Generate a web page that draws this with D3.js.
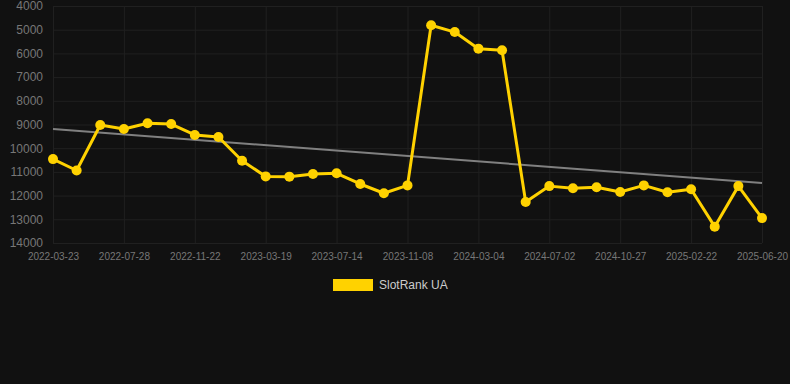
<!DOCTYPE html>
<html>
<head>
<meta charset="utf-8">
<script src="https://cdn.jsdelivr.net/npm/d3@7"></script>
<style>
  html, body { margin: 0; padding: 0; background: #111111; }
  svg { display: block; font-family: "Liberation Sans", Arial, sans-serif; }
</style>
</head>
<body>
<div class="chart"></div>
<script>
// categories (every 3rd one is labelled on the axis)
var dates = [
    "2022-03-23", "2022-05-05", "2022-06-16", "2022-07-28", "2022-09-06", "2022-10-14",
    "2022-11-22", "2022-12-31", "2023-02-08", "2023-03-19", "2023-04-27", "2023-06-05",
    "2023-07-14", "2023-08-22", "2023-09-30", "2023-11-08", "2023-12-17", "2024-01-25",
    "2024-03-04", "2024-04-12", "2024-05-23", "2024-07-02", "2024-08-09", "2024-09-18",
    "2024-10-27", "2024-12-05", "2025-01-13", "2025-02-22", "2025-04-01", "2025-05-11",
    "2025-06-20"
];
var rank = [
    10460, 10940, 9020, 9190, 8950, 8980,
    9440, 9530, 10530, 11190, 11200, 11090,
    11060, 11510, 11900, 11570, 4815, 5100,
    5800, 5870, 12270, 11600, 11690, 11650,
    11850, 11570, 11860, 11730, 13310, 11600,
    12950
];
var yTicks = [4000, 5000, 6000, 7000, 8000, 9000, 10000, 11000, 12000, 13000, 14000];
var seriesName = "SlotRank UA";

var W = 790, H = 384;
var margin = { top: 6, right: 28, bottom: 141, left: 53 };
var width = W - margin.left - margin.right;
var height = H - margin.top - margin.bottom;

var gold = "#ffd200";

var x = d3.scalePoint()
    .domain(dates)
    .range([0, width]);

// rank axis is reversed: 4000 on top
var y = d3.scaleLinear()
    .domain([4000, 14000])
    .range([0, height]);

var svg = d3.select('.chart')
    .append('svg')
    .attr('width', W)
    .attr('height', H);

var canvas = svg.append('g')
    .attr('transform', `translate(${margin.left},${margin.top})`);

var labelled = dates.filter((d, i) => i % 3 === 0);

// grid
var yAxis = d3.axisLeft(y).tickValues(yTicks).tickFormat(d3.format('d')).tickSize(-width).tickPadding(10);
var gy = canvas.append('g').call(yAxis);
gy.select('.domain').remove();
gy.selectAll('line').attr('stroke', '#202020');
gy.selectAll('text').attr('fill', '#777777').attr('font-size', 12);

var xAxis = d3.axisBottom(x).tickValues(labelled).tickSize(-height).tickPadding(10);
var gx = canvas.append('g')
    .attr('transform', `translate(0, ${height})`)
    .call(xAxis);
gx.select('.domain').remove();
gx.selectAll('line').attr('stroke', '#202020');
gx.selectAll('text').attr('fill', '#777777').attr('font-size', 10);

// least squares trend line
var n = rank.length;
var mx = d3.mean(rank, (d, i) => i);
var my = d3.mean(rank);
var slope = d3.sum(rank, (d, i) => (i - mx) * (d - my)) / d3.sum(rank, (d, i) => (i - mx) * (i - mx));
var icpt = my - slope * mx;

canvas.append('line')
    .attr('x1', x(dates[0]))
    .attr('y1', y(icpt))
    .attr('x2', x(dates[n - 1]))
    .attr('y2', y(icpt + slope * (n - 1)))
    .attr('stroke', '#808080')
    .attr('stroke-width', 2);

var line = d3.line()
    .x((d, i) => x(dates[i]))
    .y(d => y(d));

canvas.append('path')
    .datum(rank)
    .attr('d', line)
    .attr('fill', 'none')
    .attr('stroke', gold)
    .attr('stroke-width', 3)
    .attr('stroke-linejoin', 'round');

canvas.selectAll('circle')
    .data(rank)
    .enter()
    .append('circle')
    .attr('cx', (d, i) => x(dates[i]))
    .attr('cy', d => y(d))
    .attr('r', 5)
    .attr('fill', gold);

// legend
var legend = svg.append('g').attr('transform', 'translate(333, 279)');
legend.append('rect')
    .attr('width', 40)
    .attr('height', 12)
    .attr('fill', gold);
legend.append('text')
    .attr('x', 46)
    .attr('y', 10)
    .attr('fill', '#cccccc')
    .attr('font-size', 12)
    .text(seriesName);
</script>
</body>
</html>
